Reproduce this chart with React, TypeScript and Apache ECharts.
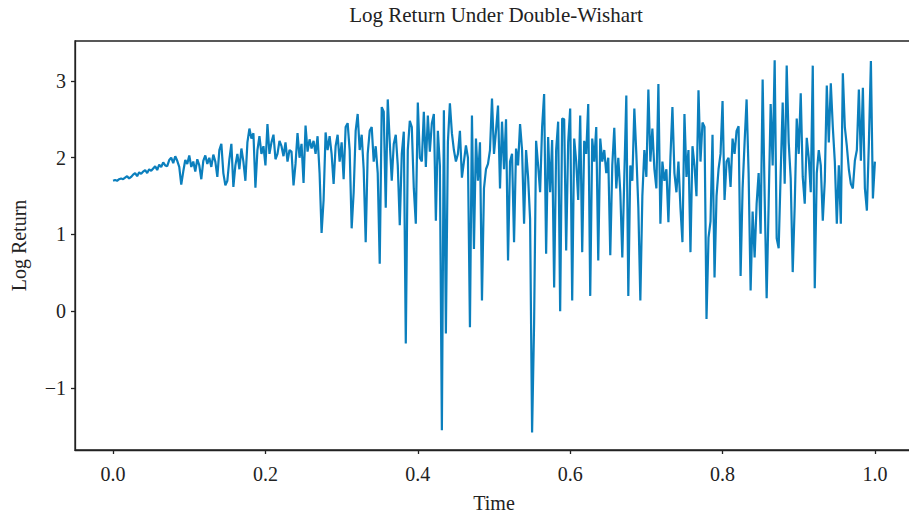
import React, { useEffect, useRef } from "react";
import * as echarts from "echarts";

const chartTitle = "Log Return Under Double-Wishart";
const xName = "Time";
const yName = "Log Return";
const xTicks = [0, 0.2, 0.4, 0.6, 0.8, 1.0];
const yTicks = [-1, 0, 1, 2, 3];

// Log return values, evenly spaced over Time in [0, 1]
const logReturn = [
  // 0-19
  1.70, 1.71, 1.70, 1.72, 1.73, 1.72, 1.74, 1.76, 1.73, 1.75, 1.78, 1.80, 1.76, 1.81, 1.79, 1.82, 1.84, 1.80, 1.85, 1.83,
  // 20-39
  1.86, 1.89, 1.84, 1.91, 1.88, 1.94, 1.90, 1.89, 1.97, 2.00, 1.93, 2.02, 1.96, 1.88, 1.65, 1.82, 1.97, 1.92, 2.03, 1.88,
  // 40-59
  1.95, 1.82, 1.98, 1.90, 1.72, 1.96, 2.03, 1.92, 2.00, 1.88, 2.04, 1.95, 1.75, 2.10, 2.18, 1.80, 1.64, 1.70, 1.98, 2.18,
  // 60-79
  1.62, 1.90, 2.05, 1.85, 2.12, 1.95, 1.70, 2.20, 2.38, 2.25, 2.32, 1.61, 2.10, 2.28, 2.05, 2.15, 1.90, 2.44, 2.05, 2.20,
  // 80-99
  2.30, 1.98, 2.05, 2.22, 2.15, 2.02, 2.20, 1.95, 2.10, 2.08, 1.64, 1.92, 2.32, 2.00, 2.18, 1.67, 2.42, 2.08, 2.24, 2.12,
  // 100-119
  2.22, 2.05, 2.28, 1.80, 1.02, 1.45, 2.33, 2.10, 2.28, 2.05, 1.66, 2.15, 2.30, 1.95, 2.20, 1.72, 2.40, 2.45, 2.10, 1.08,
  // 120-139
  1.55, 2.35, 2.57, 2.10, 2.30, 1.85, 0.90, 2.05, 2.35, 2.40, 1.95, 2.15, 1.80, 0.62, 2.66, 2.60, 1.35, 2.76, 2.20, 1.70,
  // 140-159
  2.18, 2.30, 1.90, 1.12, 2.05, 2.34, -0.42, 2.10, 2.48, 2.40, 1.60, 1.14, 2.72, 2.00, 1.95, 2.60, 1.88, 2.55, 2.08, 2.45,
  // 160-179
  2.57, 1.18, 2.35, 1.90, -1.55, 2.62, -0.29, 2.20, 2.71, 2.32, 2.10, 1.95, 2.05, 2.35, 1.74, 1.95, 2.16, 2.00, -0.21, 2.55,
  // 180-199
  0.81, 2.25, 1.70, 2.20, 0.14, 1.60, 1.85, 1.92, 2.10, 2.77, 2.05, 2.35, 2.68, 1.60, 2.47, 1.85, 2.50, 0.66, 1.95, 2.05,
  // 200-219
  0.90, 2.12, 1.90, 2.44, 2.10, 1.14, 2.10, 1.75, 1.20, -1.58, -0.16, 2.22, 1.90, 1.55, 2.40, 2.83, 0.75, 2.27, 1.55, 2.23,
  // 220-239
  0.31, 2.10, 2.47, 0.00, 2.51, 2.50, 0.79, 2.20, 2.64, 0.14, 2.25, 1.95, 1.45, 2.55, 0.77, 2.22, 2.05, 2.70, 0.20, 2.25,
  // 240-259
  1.95, 2.40, 0.66, 2.25, 1.95, 2.10, 1.80, 2.00, 0.73, 1.90, 2.39, 1.60, 2.00, 1.55, 0.70, 1.75, 2.81, 0.20, 1.90, 1.70,
  // 260-279
  2.64, 2.05, 1.35, 0.14, 1.50, 2.10, 1.75, 2.89, 1.95, 2.38, 1.85, 1.60, 2.96, 1.14, 1.95, 1.70, 1.85, 1.16, 2.00, 2.66,
  // 280-299
  1.80, 1.55, 1.95, 1.35, 0.90, 2.57, 1.75, 2.10, 0.77, 2.15, 1.90, 1.50, 2.88, 1.95, 2.46, 2.40, -0.10, 0.96, 1.17, 2.30,
  // 300-319
  0.44, 1.50, 1.85, 2.05, 2.74, 1.45, 1.95, 2.00, 1.62, 2.25, 2.05, 2.35, 2.41, 0.46, 1.60, 2.20, 2.76, 1.80, 0.27, 1.30,
  // 320-339
  0.70, 1.40, 1.80, 1.01, 3.02, 1.50, 0.17, 1.40, 2.70, 1.90, 3.27, 0.95, 0.82, 1.80, 2.72, 1.66, 3.20, 2.20, 1.73, 0.51,
  // 340-359
  1.38, 2.51, 2.05, 2.84, 1.75, 1.40, 2.26, 2.00, 1.55, 3.20, 0.30, 1.80, 2.10, 1.90, 1.18, 1.70, 2.94, 2.20, 2.97, 2.40,
  // 360-380
  1.95, 1.14, 1.90, 1.14, 3.10, 2.40, 2.15, 1.85, 1.66, 1.60, 1.96, 2.10, 2.89, 1.96, 2.91, 1.60, 1.31, 2.20, 3.26, 1.47, 1.95,
];

const FONT = "Liberation Serif";
const INK = "#222222";

export default function App() {
  const ref = useRef<HTMLDivElement>(null);

  useEffect(() => {
    if (!ref.current) return;
    const chart = echarts.init(ref.current, null, { renderer: "svg" });
    const n = logReturn.length;
    const data = logReturn.map((v, i) => [i / (n - 1), v]);

    chart.setOption({
      animation: false,
      backgroundColor: "#ffffff",
      title: {
        text: chartTitle,
        left: 496,
        top: 4,
        padding: 0,
        textAlign: "center",
        textStyle: { fontFamily: FONT, fontSize: 21, fontWeight: "normal", color: INK },
      },
      grid: {
        left: 75,
        top: 41,
        right: -4,
        bottom: 64,
        outerBoundsMode: "none",
        containLabel: false,
        show: true,
        borderColor: INK,
        borderWidth: 1.3,
        backgroundColor: "transparent",
      },
      xAxis: {
        type: "value",
        min: -0.05,
        max: 1.05,
        name: xName,
        nameLocation: "middle",
        nameGap: 43,
        nameTextStyle: { fontFamily: FONT, fontSize: 20, color: INK },
        axisLine: { show: true, onZero: false, lineStyle: { color: INK, width: 1.3 } },
        axisTick: { show: true, length: 4, lineStyle: { color: INK, width: 1.3 }, customValues: xTicks },
        axisLabel: {
          customValues: xTicks,
          formatter: (v: number) => v.toFixed(1),
          fontFamily: FONT,
          fontSize: 20,
          color: INK,
          margin: 14,
        },
        splitLine: { show: false },
      },
      yAxis: {
        type: "value",
        min: -1.808,
        max: 3.521,
        name: yName,
        nameLocation: "middle",
        nameGap: 46,
        nameTextStyle: { fontFamily: FONT, fontSize: 20, color: INK },
        axisLine: { show: true, onZero: false, lineStyle: { color: INK, width: 1.3 } },
        axisTick: { show: true, length: 4, lineStyle: { color: INK, width: 1.3 }, customValues: yTicks },
        axisLabel: {
          customValues: yTicks,
          formatter: (v: number) => (v < 0 ? "\u2212" + Math.abs(v) : String(v)),
          fontFamily: FONT,
          fontSize: 20,
          color: INK,
          margin: 9,
        },
        splitLine: { show: false },
      },
      series: [
        {
          type: "line",
          data,
          showSymbol: false,
          symbol: "none",
          lineStyle: { color: "#0b7fbd", width: 2.2 },
          clip: true,
        },
      ],
    });

    return () => chart.dispose();
  }, []);

  return (
    <div
      ref={ref}
      style={{ position: "fixed", left: 0, top: 0, width: 909, height: 514, background: "#fff" }}
    />
  );
}
